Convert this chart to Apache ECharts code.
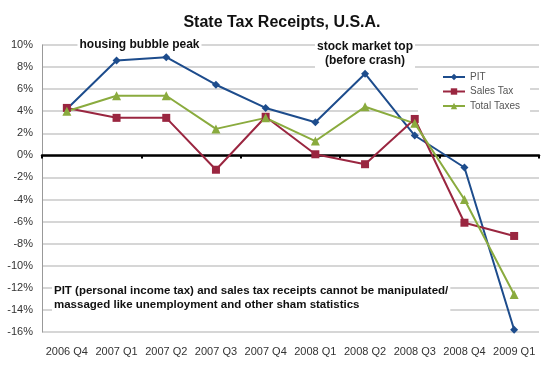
<!DOCTYPE html>
<html><head><meta charset="utf-8">
<script src="https://cdn.jsdelivr.net/npm/echarts@6/dist/echarts.min.js"></script>
<style>html,body{margin:0;padding:0;background:#fff}#c{width:545px;height:371px}</style>
</head><body><div id="c"></div>
<script>
const categories = ['2006 Q4','2007 Q1','2007 Q2','2007 Q3','2007 Q4','2008 Q1','2008 Q2','2008 Q3','2008 Q4','2009 Q1'];
const pit = [4.2, 8.6, 8.9, 6.4, 4.3, 3.0, 7.4, 1.8, -1.1, -15.8];
const salesTax = [4.3, 3.4, 3.4, -1.3, 3.5, 0.1, -0.8, 3.3, -6.1, -7.3];
const totalTaxes = [4.0, 5.4, 5.4, 2.4, 3.4, 1.3, 4.4, 2.9, -4.0, -12.6];
const yMin = -16, yMax = 10, yStep = 2;

const chart = echarts.init(document.getElementById('c'));
const font = 'Liberation Sans, Arial, sans-serif';
const gridBox = {left: 42, right: 6, top: 45, bottom: 39};
function mk(name, data, color, symbol, size) {
  return {name, type: 'line', data, symbol, symbolSize: size, showSymbol: true,
    xAxisIndex: 0, lineStyle: {color, width: 2}, itemStyle: {color}, z: 3};
}
chart.setOption({
  animation: false,
  textStyle: {fontFamily: font},
  title: {text: 'State Tax Receipts, U.S.A.', left: 277, top: 10, textAlign: 'center',
    textStyle: {fontFamily: font, fontSize: 16, fontWeight: 'bold', color: '#111'}},
  legend: {orient: 'vertical', left: 418, top: 70, backgroundColor: '#fff',
    padding: [2, 10, 3, 24], itemWidth: 22, itemHeight: 8, itemGap: 4.5,
    textStyle: {fontFamily: font, fontSize: 10, color: '#555'},
    data: ['PIT', 'Sales Tax', 'Total Taxes']},
  grid: gridBox,
  xAxis: [{type: 'category', data: categories, boundaryGap: true,
      axisLine: {show: false, onZero: false}, axisTick: {show: false},
      axisLabel: {color: '#333', fontSize: 11, margin: 14, interval: 0}},
    {type: 'category', data: categories, boundaryGap: true, position: 'bottom',
      axisLine: {show: true, onZero: true, lineStyle: {color: '#000', width: 2.5}},
      axisTick: {show: true, inside: false, length: 3, lineStyle: {color: '#000', width: 2}},
      axisLabel: {show: false}, z: 2}],
  yAxis: {type: 'value', min: yMin, max: yMax, interval: yStep,
    axisLine: {show: true, onZero: false, lineStyle: {color: '#999', width: 1}},
    axisTick: {show: false},
    splitLine: {lineStyle: {color: '#c8c8c8', width: 1.5}},
    axisLabel: {formatter: v => v + '%', color: '#333', fontSize: 11, margin: 9}},
  graphic: [
    {type: 'text', x: 139.5, y: 45, z: 10, style: {text: 'housing bubble peak', textAlign: 'center', textVerticalAlign: 'middle', fontFamily: font, fontSize: 12, fontWeight: 'bold', fill: '#111', backgroundColor: '#fff', padding: [1, 2]}},
    {type: 'text', x: 365, y: 54, z: 10, style: {text: 'stock market top\n(before crash)', textAlign: 'center', textVerticalAlign: 'middle', fontFamily: font, fontSize: 12, fontWeight: 'bold', fill: '#111', lineHeight: 14, backgroundColor: '#fff', padding: [1, 2]}},
    {type: 'text', x: 52, y: 298, z: 10, style: {text: 'PIT (personal income tax) and sales tax receipts cannot be manipulated/\nmassaged like unemployment and other sham statistics', textVerticalAlign: 'middle', fontFamily: font, fontSize: 11.5, fontWeight: 'bold', fill: '#111', lineHeight: 14.5, backgroundColor: '#fff', padding: [1, 2]}}
  ],
  series: [
    mk('PIT', pit, '#1d4c8c', 'diamond', 8),
    mk('Sales Tax', salesTax, '#9a2640', 'rect', 8),
    mk('Total Taxes', totalTaxes, '#8aab3e', 'triangle', 9)
  ]
});
</script></body></html>
